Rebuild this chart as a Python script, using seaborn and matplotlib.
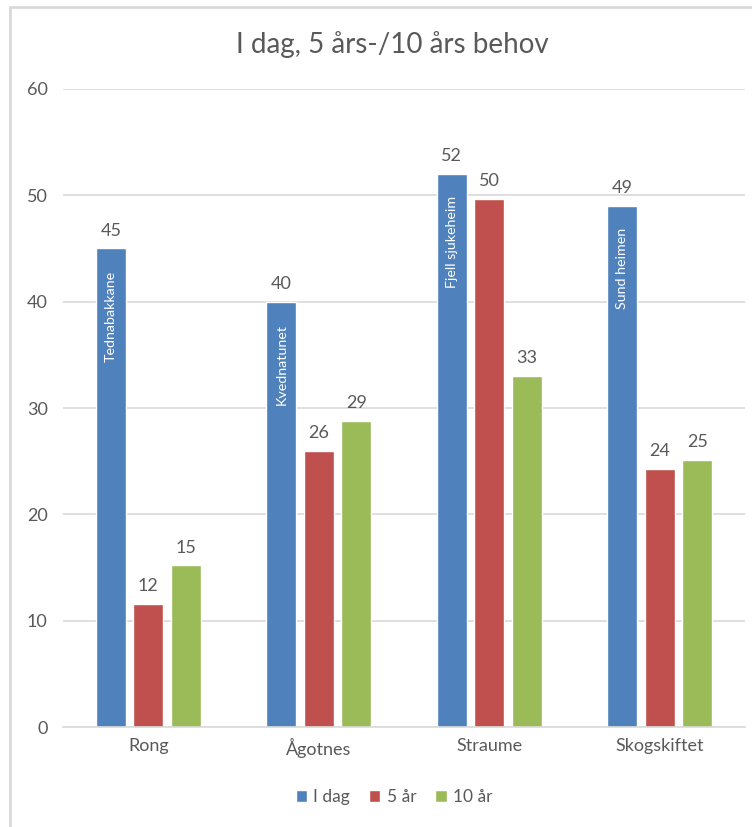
import matplotlib
matplotlib.use("Agg")
import matplotlib.pyplot as plt
from matplotlib.lines import Line2D
import pandas as pd
import seaborn as sns

# Chart data
locations = ["Rong", "Ågotnes", "Straume", "Skogskiftet"]
series = ["I dag", "5 år", "10 år"]
i_dag = [45, 40, 52, 49]
fem_ar = [11.6, 26, 49.7, 24.3]
ti_ar = [15.2, 28.8, 33, 25.1]
institusjon = ["Tednabakkane", "Kvednatunet", "Fjell sjukeheim", "Sund heimen"]
y_ticks = [0, 10, 20, 30, 40, 50, 60]

colors = ["#4F81BD", "#C0504D", "#9BBB59"]
text_grey = "#595959"
line_grey = "#D9D9D9"

df = pd.DataFrame({
    "Stad": locations * 3,
    "Serie": [series[0]] * 4 + [series[1]] * 4 + [series[2]] * 4,
    "Plassar": i_dag + fem_ar + ti_ar,
})

sns.set_theme(style="white")
plt.rcParams["font.family"] = ["Lato", "DejaVu Sans"]

fig = plt.figure(figsize=(7.52, 8.27), dpi=100)
ax = fig.add_axes([0.0838, 0.1209, 0.9069, 0.7715])

sns.barplot(data=df, x="Stad", y="Plassar", hue="Serie", order=locations,
            hue_order=series, palette=colors, width=0.66, gap=0.2,
            saturation=1, ax=ax, legend=True)

ax.set_ylim(0, 60)
ax.set_yticks(y_ticks)
ax.set_xlim(-0.5, len(locations) - 0.5)
ax.yaxis.grid(True, color=line_grey, linewidth=1.2)
ax.set_axisbelow(True)
for side in ["left", "right", "top"]:
    ax.spines[side].set_visible(False)
ax.spines["bottom"].set_color(line_grey)
ax.spines["bottom"].set_linewidth(1.2)
ax.tick_params(axis="both", length=0, labelsize=13, labelcolor=text_grey)
ax.tick_params(axis="y", pad=11)
ax.tick_params(axis="x", pad=8)
ax.set_xlabel("")
ax.set_ylabel("")

# Value labels above every bar
for cont in ax.containers:
    ax.bar_label(cont, fmt="{:.0f}", padding=7, fontsize=13, color=text_grey)

# Institution names written inside the "I dag" bars
for patch, name in zip(ax.containers[0], institusjon):
    cx = patch.get_x() + patch.get_width() / 2
    ax.annotate(name, (cx, patch.get_height()), xytext=(0, -16),
                textcoords="offset points", rotation=90, ha="center",
                va="top", color="white", fontsize=10.3)

ax.legend(loc="center", bbox_to_anchor=(0.524, 0.036),
          bbox_transform=fig.transFigure, ncol=3, frameon=False,
          fontsize=12.5, labelcolor=text_grey, handlelength=0.65,
          handleheight=0.65, handletextpad=0.35, columnspacing=1.1)

fig.text(0.522, 0.946, "I dag, 5 års-/10 års behov", ha="center",
         va="center", fontsize=20, color=text_grey)

# Chart area frame
fig.add_artist(Line2D([10 / 752, 1], [1 - 7 / 827] * 2, color=line_grey,
                      linewidth=2, transform=fig.transFigure))
fig.add_artist(Line2D([10 / 752] * 2, [0, 1 - 7 / 827], color=line_grey,
                      linewidth=2, transform=fig.transFigure))

fig.savefig("out.png", dpi=100)
